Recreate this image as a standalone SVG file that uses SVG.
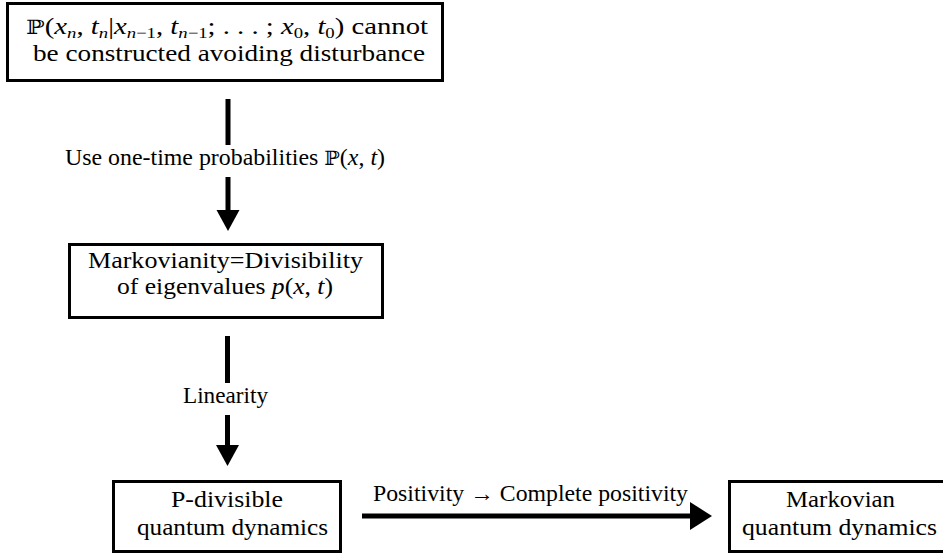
<svg xmlns="http://www.w3.org/2000/svg" width="943" height="554" viewBox="0 0 943 554">
<style>
text{font-family:"Liberation Serif","Times New Roman",serif;font-size:23px;fill:#000}
.i{font-style:italic}
.s{font-size:15px}
.bb{font-family:"DejaVu Serif","DejaVu Sans",serif;font-size:20px}
.box{fill:#fff;stroke:#000;stroke-width:3}
.ln{stroke:#000;stroke-width:5;fill:none}
.hd{fill:#000}
</style>
<rect width="943" height="554" fill="#fff"/>
<g id="node-constraint">
<rect class="box" x="7.5" y="3.5" width="435" height="77"/>
<text x="26" y="34" textLength="402" lengthAdjust="spacingAndGlyphs"><tspan class="bb">ℙ</tspan>(<tspan class="i">x</tspan><tspan class="s i" dy="4">n</tspan><tspan dy="-4">, </tspan><tspan class="i">t</tspan><tspan class="s i" dy="4">n</tspan><tspan dy="-4">|</tspan><tspan class="i">x</tspan><tspan class="s" dy="4"><tspan class="i">n</tspan>−1</tspan><tspan dy="-4">, </tspan><tspan class="i">t</tspan><tspan class="s" dy="4"><tspan class="i">n</tspan>−1</tspan><tspan dy="-4">; . . . ; </tspan><tspan class="i">x</tspan><tspan class="s" dy="4">0</tspan><tspan dy="-4">, </tspan><tspan class="i">t</tspan><tspan class="s" dy="4">0</tspan><tspan dy="-4">) cannot</tspan></text>
<text x="33" y="61" textLength="392" lengthAdjust="spacingAndGlyphs">be constructed avoiding disturbance</text>
</g>
<g id="node-divisibility">
<rect class="box" x="69.5" y="244.5" width="313" height="73"/>
<text x="88" y="268" textLength="275" lengthAdjust="spacingAndGlyphs">Markovianity=Divisibility</text>
<text x="117" y="294" textLength="216" lengthAdjust="spacingAndGlyphs">of eigenvalues <tspan class="i">p</tspan>(<tspan class="i">x</tspan>, <tspan class="i">t</tspan>)</text>
</g>
<g id="node-pdivisible">
<rect class="box" x="113.5" y="481.5" width="227" height="70"/>
<text x="171" y="507" textLength="112" lengthAdjust="spacingAndGlyphs">P-divisible</text>
<text x="137" y="535" textLength="191" lengthAdjust="spacingAndGlyphs">quantum dynamics</text>
</g>
<g id="node-markovian">
<rect class="box" x="729.5" y="481.5" width="222" height="70"/>
<text x="786" y="507" textLength="109" lengthAdjust="spacingAndGlyphs">Markovian</text>
<text x="742" y="535" textLength="195" lengthAdjust="spacingAndGlyphs">quantum dynamics</text>
</g>
<g id="connectors">
<line class="ln" x1="228" y1="99" x2="228" y2="145"/>
<line class="ln" x1="228" y1="177" x2="228" y2="211"/>
<polygon class="hd" points="216.5,210 239.5,210 228,231"/>
<text x="65" y="165" textLength="320" lengthAdjust="spacingAndGlyphs">Use one-time probabilities <tspan class="bb">ℙ</tspan>(<tspan class="i">x</tspan>, <tspan class="i">t</tspan>)</text>
<line class="ln" x1="227.5" y1="336" x2="227.5" y2="383"/>
<line class="ln" x1="227.5" y1="415" x2="227.5" y2="446"/>
<polygon class="hd" points="216,445 239,445 227.5,466"/>
<text x="183" y="403" textLength="85" lengthAdjust="spacingAndGlyphs">Linearity</text>
<line class="ln" x1="362" y1="516" x2="691" y2="516"/>
<polygon class="hd" points="690,502 712,516 690,530"/>
<text x="373" y="501" textLength="315" lengthAdjust="spacingAndGlyphs">Positivity → Complete positivity</text>
</g>
</svg>
